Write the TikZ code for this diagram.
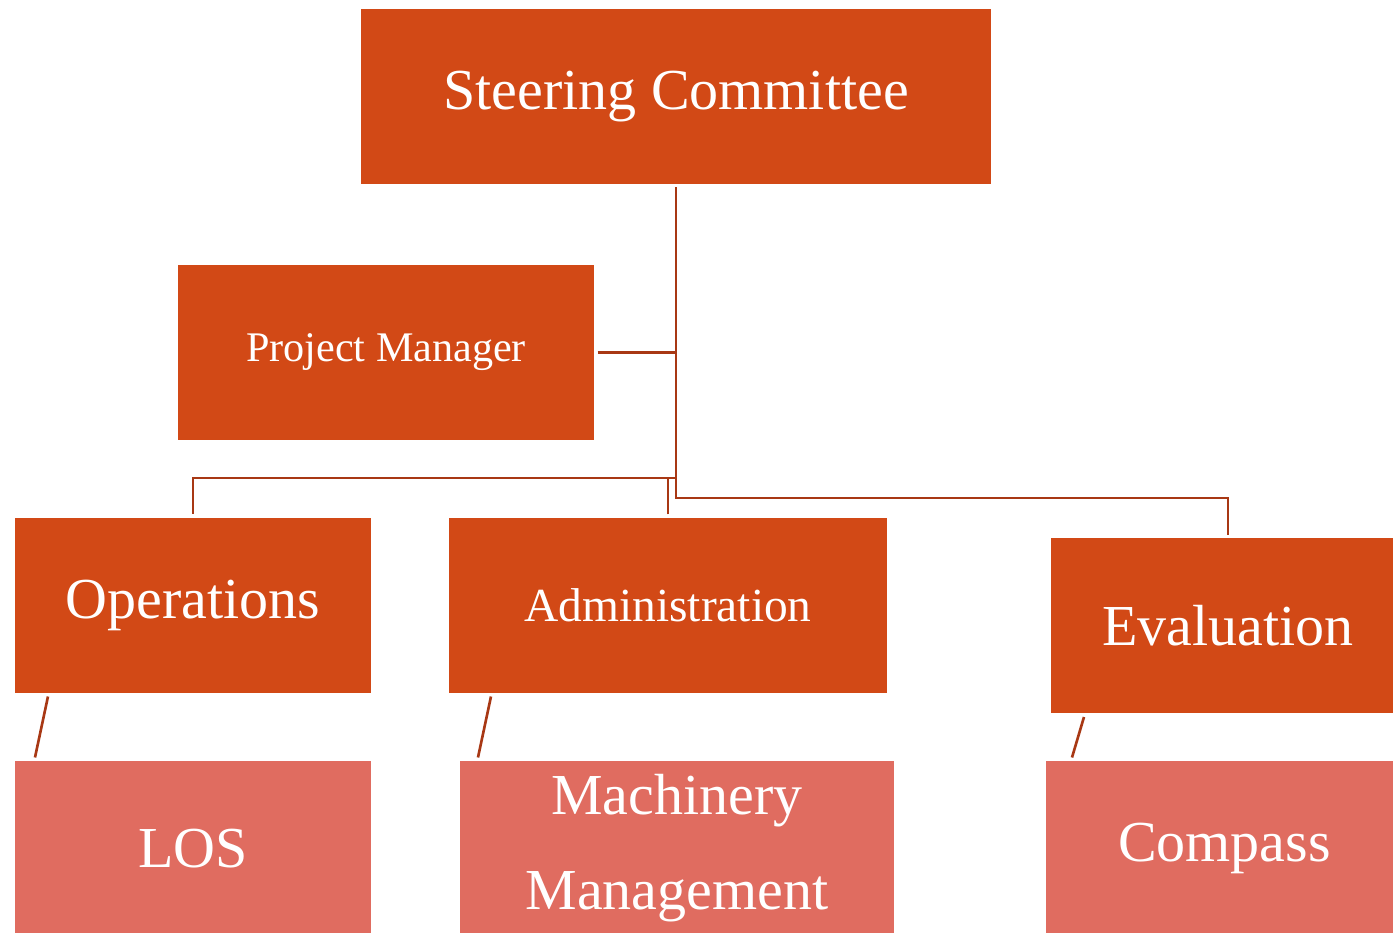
\documentclass[tikz,border=0pt]{standalone}
\usepackage{fontspec}
\setmainfont{Liberation Serif}
\usepackage{tikz}
\usetikzlibrary{calc}
\definecolor{boxdark}{RGB}{210,73,22}
\definecolor{boxlight}{RGB}{224,108,96}
\definecolor{linkcol}{RGB}{168,56,20}

\begin{document}
\begin{tikzpicture}[outer sep=2pt, inner sep=0pt,
  unit/.style={rectangle, fill=boxdark, text=white, minimum height=3.5cm, font=\fontsize{33}{40}\selectfont},
  sub/.style={rectangle, fill=boxlight, text=white, minimum height=3.5cm, font=\fontsize{33}{54}\selectfont, align=center},
  link/.style={draw=linkcol, line width=1.5pt}]

\useasboundingbox (0,0) rectangle (27.86,18.66);

\node [unit, minimum width=12.6cm] at (13.52, 16.73) (STEER) {Steering Committee};

\node [unit, minimum width=8.32cm, font=\fontsize{24}{30}\selectfont] at (7.72, 11.61) (PM) {Project Manager};

\node [unit, minimum width=7.12cm] at (3.86, 6.55) (OPS) {Operations};
\node [unit, minimum width=8.76cm, font=\fontsize{27}{32}\selectfont] at (13.36, 6.55) (ADMIN) {Administration};
\node [unit, minimum width=7.08cm] at (24.56, 6.14) (EVAL) {Evaluation};

\node [sub, minimum width=7.12cm] at (3.86, 1.69) (LOS) {LOS};
\node [sub, minimum width=8.68cm] at (13.54, 1.69) (MACH) {Machinery\\Management};
\node [sub, minimum width=7.14cm] at (24.49, 1.69) (COMPASS) {Compass};

% junctions of the tree
\coordinate (JOPS) at (13.52, 9.10);
\coordinate (JEVAL) at (13.52, 8.70);

\draw [link] (STEER.south) -- (JEVAL) -| (EVAL.north);
\draw [link] (PM.east) -- (PM.east -| STEER.south);
\draw [link] (JOPS) -| (OPS.north);
\draw [link] (ADMIN.north) -- (ADMIN.north |- JOPS);

\draw [link] ([xshift=0.73cm]OPS.south west) -- ([xshift=0.47cm]LOS.north west);
\draw [link] ([xshift=0.91cm]ADMIN.south west) -- ([xshift=0.43cm]MACH.north west);
\draw [link] ([xshift=0.73cm]EVAL.south west) -- ([xshift=0.59cm]COMPASS.north west);

\end{tikzpicture}
\end{document}
